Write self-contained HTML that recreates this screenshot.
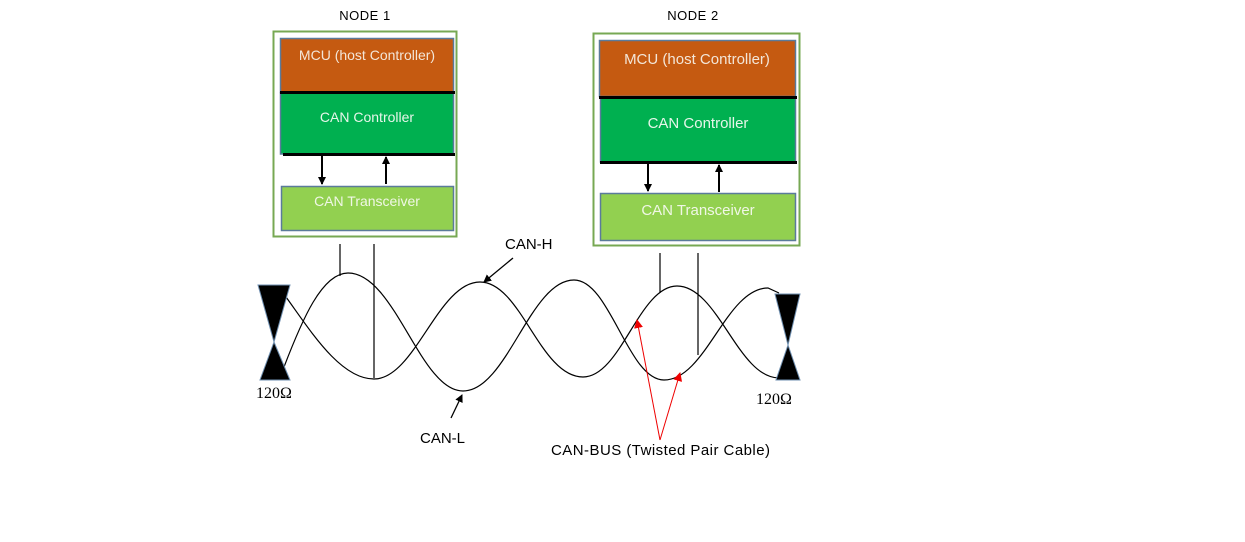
<!DOCTYPE html>
<html><head><meta charset="utf-8"><style>
html,body{margin:0;padding:0;background:#fff;}
svg{display:block;}
</style></head><body>
<svg width="1245" height="542" viewBox="0 0 1245 542" xmlns="http://www.w3.org/2000/svg" font-family="Liberation Sans, sans-serif">
<defs>
<marker id="ab" markerWidth="8" markerHeight="8" refX="7" refY="4" orient="auto" markerUnits="userSpaceOnUse"><path d="M0,0 L8,4 L0,8 z" fill="#000"/></marker>
<marker id="ar" markerWidth="9" markerHeight="9" refX="8" refY="4.5" orient="auto" markerUnits="userSpaceOnUse"><path d="M0,0 L9,4.5 L0,9 z" fill="#e00"/></marker>
</defs>
<rect width="1245" height="542" fill="#fff"/>
<!-- Node 1 -->
<text x="365" y="20" font-size="13" text-anchor="middle" letter-spacing="0.5">NODE 1</text>
<rect x="273.5" y="31.5" width="183" height="205" fill="none" stroke="#77a853" stroke-width="2"/>
<rect x="280.5" y="38.5" width="173" height="54" fill="#c55a11" stroke="#5b7b9b" stroke-width="1.5"/>
<text x="367" y="60" font-size="14" fill="#f3e6d8" text-anchor="middle">MCU (host Controller)</text>
<rect x="280.5" y="93" width="173" height="61" fill="#00b050" stroke="#5b7b9b" stroke-width="1.5"/>
<line x1="280" y1="92.5" x2="455" y2="92.5" stroke="#000" stroke-width="3"/>
<line x1="283" y1="154.5" x2="455" y2="154.5" stroke="#000" stroke-width="3"/>
<text x="367" y="122" font-size="14" fill="#e6f6ea" text-anchor="middle">CAN Controller</text>
<line x1="322" y1="156" x2="322" y2="184" stroke="#000" stroke-width="2" marker-end="url(#ab)"/>
<line x1="386" y1="184" x2="386" y2="157" stroke="#000" stroke-width="2" marker-end="url(#ab)"/>
<rect x="281.5" y="186.5" width="172" height="44" fill="#92d050" stroke="#5b7b9b" stroke-width="1.5"/>
<text x="367" y="206" font-size="14" fill="#f0f7e6" text-anchor="middle">CAN Transceiver</text>
<!-- Node 2 -->
<text x="693" y="20" font-size="13" text-anchor="middle" letter-spacing="0.5">NODE 2</text>
<rect x="593.5" y="33.5" width="206" height="212" fill="none" stroke="#77a853" stroke-width="2"/>
<rect x="599.5" y="40.5" width="196" height="56" fill="#c55a11" stroke="#5b7b9b" stroke-width="1.5"/>
<text x="697" y="64" font-size="15" fill="#f3e6d8" text-anchor="middle">MCU (host Controller)</text>
<rect x="600.5" y="98" width="195" height="64" fill="#00b050" stroke="#5b7b9b" stroke-width="1.5"/>
<line x1="599" y1="97.5" x2="797" y2="97.5" stroke="#000" stroke-width="3"/>
<line x1="600" y1="162.5" x2="797" y2="162.5" stroke="#000" stroke-width="3"/>
<text x="698" y="128" font-size="15" fill="#e6f6ea" text-anchor="middle">CAN Controller</text>
<line x1="648" y1="164" x2="648" y2="191" stroke="#000" stroke-width="2" marker-end="url(#ab)"/>
<line x1="719" y1="192" x2="719" y2="165" stroke="#000" stroke-width="2" marker-end="url(#ab)"/>
<rect x="600.5" y="193.5" width="195" height="47" fill="#92d050" stroke="#5b7b9b" stroke-width="1.5"/>
<text x="698" y="215" font-size="15" fill="#f0f7e6" text-anchor="middle">CAN Transceiver</text>
<!-- drop lines -->
<g stroke="#000" stroke-width="1.2" fill="none">
<line x1="340" y1="244" x2="340" y2="276"/>
<line x1="374" y1="244" x2="374" y2="378"/>
<line x1="660" y1="253" x2="660" y2="293"/>
<line x1="698" y1="253" x2="698" y2="355"/>
<path d="M284 367 C302 320 322 273 348 273 C395 273 420 391 463 391 C507 391 530 280 574 280 C610 280 628 380 664 380 C706 380 726 288 768 288 L779 293"/>
<path d="M286 297 C310 330 340 379 374 379 C415 379 438 282 480 282 C521 282 540 377 583 377 C621 377 639 286 677 286 C718 286 738 378 779 378"/>
</g>
<!-- resistors -->
<path d="M258 285 L290 285 L274 342 Z M274 342 L290 380 L260 380 Z" fill="#000" stroke="#6f8fb0" stroke-width="1"/>
<path d="M775 294 L800 294 L788 345 Z M788 345 L800 380 L776 380 Z" fill="#000" stroke="#6f8fb0" stroke-width="1"/>
<text x="256" y="398" font-size="16" font-family="Liberation Serif, serif">120Ω</text>
<text x="756" y="404" font-size="16" font-family="Liberation Serif, serif">120Ω</text>
<!-- labels -->
<text x="505" y="249" font-size="15">CAN-H</text>
<line x1="513" y1="258" x2="484" y2="282" stroke="#000" stroke-width="1.3" marker-end="url(#ab)"/>
<text x="420" y="443" font-size="15">CAN-L</text>
<line x1="451" y1="418" x2="462" y2="395" stroke="#000" stroke-width="1.3" marker-end="url(#ab)"/>
<text x="551" y="455" font-size="15" textLength="219">CAN-BUS (Twisted Pair Cable)</text>
<line x1="660" y1="440" x2="637" y2="320" stroke="#e00" stroke-width="1" marker-end="url(#ar)"/>
<line x1="660" y1="440" x2="680" y2="373" stroke="#e00" stroke-width="1" marker-end="url(#ar)"/>
</svg>
</body></html>
